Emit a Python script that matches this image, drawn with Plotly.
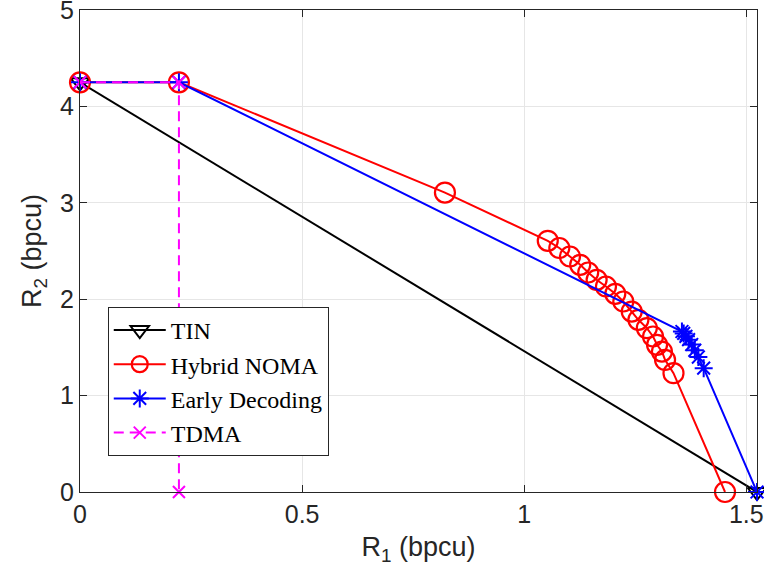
import plotly.graph_objects as go

R2MAX = 4.25
R1MAX = 1.524

tin_x = [0.0, R1MAX]
tin_y = [R2MAX, 0.0]

noma_x = [0.0, 0.2227, 0.8215, 1.053, 1.079, 1.103, 1.126, 1.144, 1.163, 1.184, 1.205,
          1.223, 1.242, 1.257, 1.276, 1.290, 1.299, 1.310, 1.317, 1.336, 1.452]
noma_y = [R2MAX, R2MAX, 3.106, 2.606, 2.531, 2.443, 2.357, 2.277, 2.201, 2.132, 2.056,
          1.976, 1.872, 1.786, 1.700, 1.613, 1.527, 1.457, 1.371, 1.233, 0.0]

ed_x = [0.0, 0.2227, 1.355, 1.359, 1.364, 1.370, 1.377, 1.384, 1.392, 1.404, R1MAX]
ed_y = [R2MAX, R2MAX, 1.665, 1.645, 1.615, 1.580, 1.530, 1.470, 1.400, 1.285, 0.0]

tdma_x = [0.0, 0.2227, 0.2227]
tdma_y = [R2MAX, R2MAX, 0.0]

x_ticks = [0, 0.5, 1, 1.5]
x_ticktext = ["0", "0.5", "1", "1.5"]
y_ticks = [0, 1, 2, 3, 4, 5]

fig = go.Figure()
fig.add_trace(go.Scatter(x=tin_x, y=tin_y, mode="lines+markers", name="TIN", cliponaxis=False,
                         line=dict(color="black", width=2),
                         marker=dict(symbol="triangle-down-open", size=16, color="black",
                                     line=dict(width=2, color="black"))))
fig.add_trace(go.Scatter(x=noma_x, y=noma_y, mode="lines+markers", name="Hybrid NOMA", cliponaxis=False,
                         line=dict(color="red", width=2),
                         marker=dict(symbol="circle-open", size=20, color="red",
                                     line=dict(width=2.2, color="red"))))
fig.add_trace(go.Scatter(x=ed_x, y=ed_y, mode="lines+markers", name="Early Decoding", cliponaxis=False,
                         line=dict(color="blue", width=2),
                         marker=dict(symbol="asterisk-open", size=15, color="blue",
                                     line=dict(width=2, color="blue"))))
fig.add_trace(go.Scatter(x=tdma_x, y=tdma_y, mode="lines+markers", name="TDMA", cliponaxis=False,
                         line=dict(color="magenta", width=2, dash="10px,6px"),
                         marker=dict(symbol="x-thin-open", size=12, color="magenta",
                                     line=dict(width=2, color="magenta"))))

axis_common = dict(showgrid=True, gridcolor="#e6e6e6", gridwidth=1,
                   showline=True, linecolor="#262626", linewidth=1, mirror="ticks",
                   ticks="inside", ticklen=7, tickcolor="#262626",
                   zeroline=False, automargin=False, ticklabeloverflow="allow",
                   tickfont=dict(family="Liberation Sans, Arial", size=25, color="#262626"))

title_font = dict(family="Liberation Sans, Arial", size=27, color="#262626")

fig.update_xaxes(range=[0, R1MAX], tickvals=x_ticks, ticktext=x_ticktext,
                 title=dict(text="R<sub>1</sub> (bpcu)", font=title_font, standoff=10),
                 **axis_common)
fig.update_yaxes(range=[0, 5], tickvals=y_ticks,
                 title=dict(text="R<sub>2</sub> (bpcu)", font=title_font, standoff=10),
                 **axis_common)

fig.update_layout(width=764, height=579, margin=dict(l=80, r=7, t=10, b=87),
                  plot_bgcolor="white", paper_bgcolor="white",
                  showlegend=True,
                  legend=dict(x=0.041, y=0.384, xanchor="left", yanchor="top",
                              bgcolor="white", bordercolor="#262626", borderwidth=1,
                              font=dict(family="Liberation Serif, Times New Roman", size=24, color="black"),
                              tracegroupgap=0, itemwidth=52))

fig.write_html("out.html", config={"displayModeBar": False},
               post_script="document.body.style.margin='0';document.body.style.padding='0';")
